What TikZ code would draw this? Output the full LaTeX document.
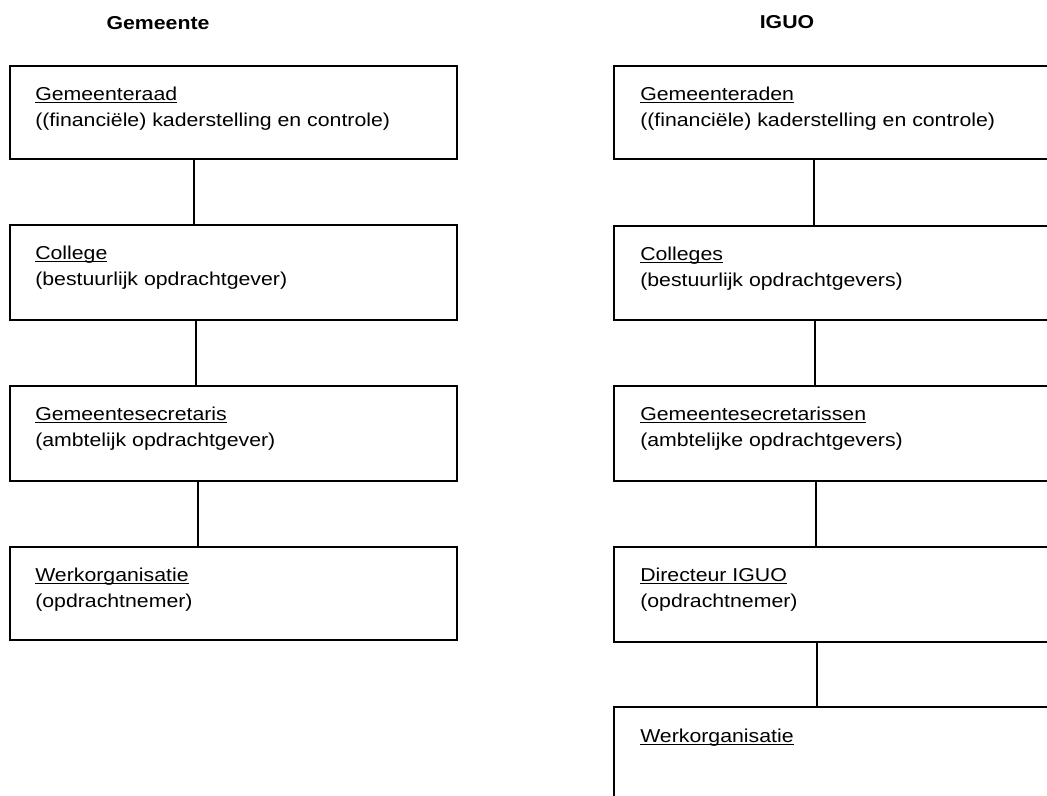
\documentclass[tikz,border=0pt]{standalone}
\usepackage{fontspec}
\setmainfont{Liberation Sans}[FakeStretch=1.14]
\newcommand\ulx[1]{\setbox0\hbox{#1}\rlap{\rule[-2.2pt]{\wd0}{0.9pt}}\box0}
\begin{document}
\def\px{0.75pt}
\begin{tikzpicture}[x=0.75pt,y=-0.75pt,
  orgbox/.style={draw, line width=1.5pt, rectangle, anchor=north west, inner sep=0pt, outer sep=0pt, minimum width=335.25pt},
  lbl/.style={anchor=base west, align=left, inner sep=0pt, font=\fontsize{14pt}{19.5pt}\selectfont},
  ttl/.style={anchor=base, inner sep=0pt, font=\fontsize{14pt}{17pt}\selectfont\bfseries},
  link/.style={line width=1.2pt}]
\useasboundingbox (0,0) rectangle (1047,796);
\clip (0,0) rectangle (1047,796);
\fill[white] (0,0) rectangle (1047,796);

% titles
\node[ttl] (tg) at (158,29.5) {Gemeente};
\node[ttl] (ti) at (787,28.5) {IGUO};

% left column
\node[orgbox, minimum height={93*\px}] (L1) at (10,66) {};
\node[orgbox, minimum height={95*\px}] (L2) at (10,225) {};
\node[orgbox, minimum height={95*\px}] (L3) at (10,386) {};
\node[orgbox, minimum height={93*\px}] (L4) at (10,547) {};

% multi-line labels: base anchor = baseline of the last line
\node[lbl] (l1) at (35,126) {\ulx{Gemeenteraad}\\((financiële) kaderstelling en controle)};
\node[lbl] (l2) at (35,285) {\ulx{College}\\(bestuurlijk opdrachtgever)};
\node[lbl] (l3) at (35,446) {\ulx{Gemeentesecretaris}\\(ambtelijk opdrachtgever)};
\node[lbl] (l4) at (35,607) {\ulx{Werkorganisatie}\\(opdrachtnemer)};

\draw[link] ([xshift=184*\px]L1.south west) -- ([xshift=184*\px]L2.north west);
\draw[link] ([xshift=186*\px]L2.south west) -- ([xshift=186*\px]L3.north west);
\draw[link] ([xshift=188*\px]L3.south west) -- ([xshift=188*\px]L4.north west);

% right column
\node[orgbox, minimum height={93*\px}] (R1) at (614,66) {};
\node[orgbox, minimum height={94*\px}] (R2) at (614,226) {};
\node[orgbox, minimum height={95*\px}] (R3) at (614,386) {};
\node[orgbox, minimum height={95*\px}] (R4) at (614,547) {};
\node[orgbox, minimum height={95*\px}] (R5) at (614,707) {};

\node[lbl] (r1) at (640,126) {\ulx{Gemeenteraden}\\((financiële) kaderstelling en controle)};
\node[lbl] (r2) at (640,286) {\ulx{Colleges}\\(bestuurlijk opdrachtgevers)};
\node[lbl] (r3) at (640,446) {\ulx{Gemeentesecretarissen}\\(ambtelijke opdrachtgevers)};
\node[lbl] (r4) at (640,607) {\ulx{Directeur IGUO}\\(opdrachtnemer)};
\node[lbl] (r5) at (640,742) {\ulx{Werkorganisatie}};

\draw[link] ([xshift=200*\px]R1.south west) -- ([xshift=200*\px]R2.north west);
\draw[link] ([xshift=201*\px]R2.south west) -- ([xshift=201*\px]R3.north west);
\draw[link] ([xshift=202*\px]R3.south west) -- ([xshift=202*\px]R4.north west);
\draw[link] ([xshift=203*\px]R4.south west) -- ([xshift=203*\px]R5.north west);
\end{tikzpicture}
\end{document}
